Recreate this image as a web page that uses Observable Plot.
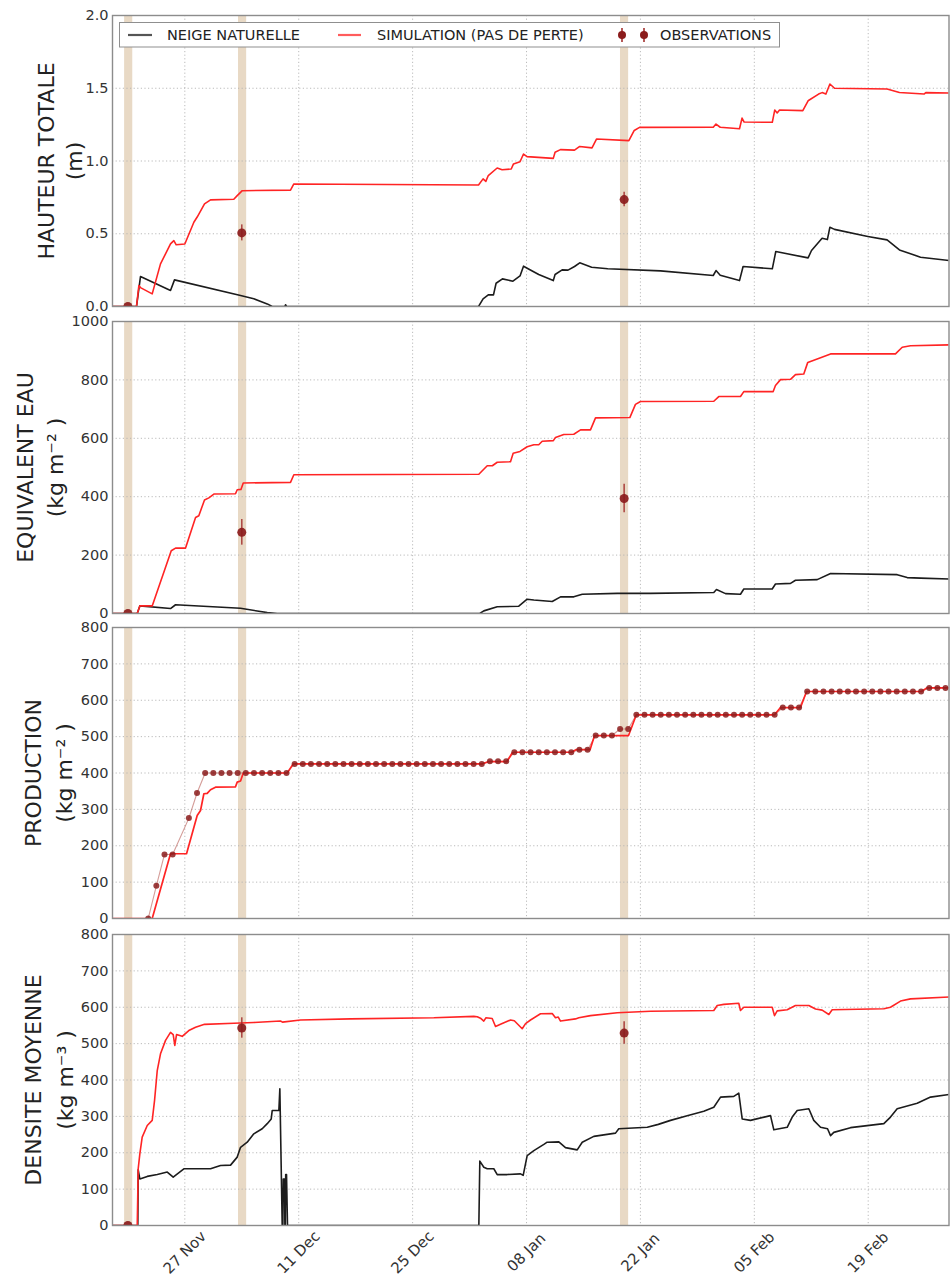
<!DOCTYPE html>
<html>
<head>
<meta charset="utf-8">
<script src="https://cdn.jsdelivr.net/npm/d3@7"></script>
<script src="https://cdn.jsdelivr.net/npm/@observablehq/plot@0.6"></script>
<style>
  html, body { margin: 0; padding: 0; background: #fff; }
  body { width: 951px; overflow: hidden; }
  #chart svg { display: block; }
</style>
</head>
<body>
<div id="chart"></div>
<script>
// Time is stored as "jour" = day count where jour 27 = 27 Nov 2015 00:00 UTC,
// jour 41 = 11 Dec, jour 69 = 08 Jan, jour 97 = 05 Feb ...
const origine = Date.UTC(2015, 9, 31);
const toDate = j => new Date(origine + j * 864e5);

const xDomain = [18.11, 120.93];
const xTickJours = [27, 41, 55, 69, 83, 97, 111];
const xTickLabels = ["27 Nov", "11 Dec", "25 Dec", "08 Jan", "22 Jan", "05 Feb", "19 Feb"];

// Observation days (beige bands) and observations
const bandStart = [19.6, 33.6, 80.55];
const bandEnd = [20.6, 34.6, 81.55];
const obsJours = [20, 34, 81];

const legendLabels = ["NEIGE NATURELLE", "SIMULATION (PAS DE PERTE)", "OBSERVATIONS"];

// ---------- HAUTEUR TOTALE (m)
const hauteurObs = [0, 0.506, 0.735];
const hauteurErr = [0, 0.055, 0.05];
const hauteurSim = [[18.11,0],[21.06,0],[21.35,0.144],[21.55,0.13],[22.99,0.087],[24.01,0.293],[25.24,0.43],[25.65,0.453],[25.94,0.424],[27.0,0.43],[28.11,0.579],[28.52,0.615],[29.42,0.705],[30.16,0.733],[33.02,0.737],[33.44,0.762],[34.06,0.796],[39.99,0.80],[40.40,0.842],[63.10,0.835],[63.66,0.877],[64.0,0.86],[64.30,0.90],[65.39,0.952],[66.0,0.94],[67.12,0.945],[67.40,0.98],[68.20,0.995],[68.63,1.048],[69.06,1.03],[72.29,1.018],[72.51,1.06],[73.17,1.078],[74.90,1.075],[75.54,1.10],[77.05,1.09],[77.60,1.151],[81.58,1.14],[82.24,1.21],[82.89,1.231],[91.95,1.232],[92.29,1.254],[92.81,1.232],[95.18,1.222],[95.49,1.295],[95.75,1.268],[99.21,1.266],[99.51,1.35],[99.81,1.33],[100.1,1.35],[102.96,1.346],[103.61,1.414],[104.90,1.46],[105.33,1.47],[105.8,1.46],[106.29,1.529],[106.86,1.50],[113.32,1.495],[114.84,1.471],[117.86,1.46],[118.08,1.47],[120.93,1.467]];
const hauteurNeige = [[18.11,0],[21.06,0],[21.55,0.206],[25.24,0.11],[25.73,0.183],[33.85,0.075],[35.48,0.053],[37.13,0.018],[37.74,0],[39.3,0],[39.38,0.012],[39.5,0],[63.10,0],[63.66,0.053],[64.30,0.08],[64.94,0.08],[65.26,0.16],[66.04,0.19],[67.33,0.174],[68.20,0.21],[68.63,0.277],[70.5,0.22],[72.29,0.178],[72.51,0.22],[73.38,0.252],[74.10,0.25],[74.90,0.275],[75.54,0.30],[77.0,0.27],[78.99,0.259],[85.47,0.245],[91.95,0.213],[92.29,0.247],[92.81,0.215],[95.18,0.178],[95.62,0.275],[99.21,0.259],[99.64,0.378],[103.61,0.334],[104.03,0.385],[105.33,0.469],[105.98,0.46],[106.29,0.545],[106.86,0.53],[110.95,0.481],[113.32,0.458],[114.84,0.389],[117.43,0.339],[120.93,0.316]];

// ---------- EQUIVALENT EAU (kg m-2)
const eauObs = [0, 278, 394];
const eauErr = [0, 44, 49];
const eauSim = [[18.11,0],[21.15,0],[21.47,26],[22.99,26],[25.33,215],[25.86,224],[27.09,224],[28.32,329],[28.72,335],[29.42,389],[29.95,396],[30.57,409],[33.23,410],[33.44,424],[33.9,425],[34.18,447],[39.99,449],[40.40,475],[63.14,477],[64.17,506],[64.8,506],[65.40,518],[67.03,520],[67.36,549],[68.2,555],[69.08,571],[69.90,578],[70.5,578],[70.93,590],[72.3,592],[72.56,603],[73.58,613],[74.81,614],[75.64,629],[76.86,629],[77.48,670],[81.70,671],[82.39,716],[83.01,726],[92.02,727],[92.63,743],[95.30,743],[95.71,760],[99.32,760],[99.60,781],[100.22,801],[101.45,802],[102.06,818],[103.08,820],[103.57,860],[105.14,876],[106.37,889],[114.35,889],[115.18,912],[116.20,917],[120.93,920]];
const eauNeige = [[18.11,0],[21.15,0],[21.47,26],[25.24,17],[25.86,30],[33.85,18],[37.13,3],[38.36,0],[63.26,0],[63.75,9],[65.40,23],[68.05,25],[69.08,49],[69.9,46],[72.16,41],[73.18,57],[74.81,57],[75.85,66],[80.15,69],[84.24,69],[92.02,72],[92.35,82],[93.46,68],[95.30,66],[95.71,84],[99.20,84],[99.60,101],[101.45,103],[102.06,114],[104.73,116],[106.37,137],[114.56,133],[115.79,123],[117.43,121],[120.93,118]];

// ---------- PRODUCTION (kg m-2)
const prodSim = [[18.11,0],[22.99,0],[25.24,178],[27.21,178],[28.52,283],[28.93,297],[29.34,343],[29.75,344],[30.16,354],[30.77,361],[33.23,362],[33.44,375],[33.85,378],[34.18,400],[39.59,400],[40.32,425],[63.55,425],[64.29,431],[66.58,431],[67.23,455],[67.53,457],[74.53,457],[75.07,464],[76.81,464],[77.36,503],[81.54,503],[82.50,560],[99.48,560],[100.22,580],[102.68,580],[103.42,624],[117.55,624],[118.20,634],[120.93,634]];
const prodObsJours = [22.5,23.5,24.5,25.5,27.5,28.5,
  29.5,30.5,31.5,32.5,33.5,34.5,35.5,36.5,37.5,38.5,39.5,
  40.5,41.5,42.5,43.5,44.5,45.5,46.5,47.5,48.5,49.5,50.5,51.5,52.5,53.5,54.5,55.5,56.5,57.5,58.5,59.5,60.5,61.5,62.5,63.5,
  64.5,65.5,66.5,
  67.5,68.5,69.5,70.5,71.5,72.5,73.5,74.5,
  75.5,76.5,
  77.5,78.5,79.5,
  80.5,81.5,
  82.5,83.5,84.5,85.5,86.5,87.5,88.5,89.5,90.5,91.5,92.5,93.5,94.5,95.5,96.5,97.5,98.5,99.5,
  100.5,101.5,102.5,
  103.5,104.5,105.5,106.5,107.5,108.5,109.5,110.5,111.5,112.5,113.5,114.5,115.5,116.5,117.5,
  118.5,119.5,120.5];
const prodObsValeurs = [0,90,176,176,276,345,
  400,400,400,400,400,400,400,400,400,400,400,
  425,425,425,425,425,425,425,425,425,425,425,425,425,425,425,425,425,425,425,425,425,425,425,425,
  432,432,432,
  457,457,457,457,457,457,457,457,
  464,464,
  503,503,503,
  521,521,
  560,560,560,560,560,560,560,560,560,560,560,560,560,560,560,560,560,560,
  580,580,580,
  624,624,624,624,624,624,624,624,624,624,624,624,624,624,624,
  634,634,634];

// ---------- DENSITE MOYENNE (kg m-3)
const densObs = [0, 543, 529];
const densErr = [0, 28, 31];
const densSim = [[18.11,0],[21.15,0],[21.27,156],[21.47,197],[21.76,243],[22.38,275],[22.99,289],[23.28,344],[23.61,426],[24.01,472],[24.63,509],[25.24,531],[25.57,525],[25.77,495],[25.98,525],[26.68,520],[27.49,536],[28.32,545],[29.42,553],[33.02,556],[35.48,558],[38.76,562],[39.0,559],[41.22,565],[47.37,568],[57.61,571],[62.52,575],[62.94,574],[63.34,570],[63.75,562],[64.0,571],[64.78,569],[65.19,547],[65.80,553],[67.03,565],[67.5,563],[68.47,541],[68.88,555],[69.49,565],[70.72,582],[72.16,583],[72.56,571],[72.9,573],[73.18,562],[75.02,568],[75.43,571],[76.86,577],[80.15,585],[84.24,589],[92.02,591],[92.44,605],[93.25,608],[95.09,611],[95.30,591],[95.71,600],[99.20,600],[99.48,577],[99.81,590],[101.04,593],[102.06,605],[103.70,605],[104.52,595],[105.34,592],[106.16,580],[106.57,593],[112.92,596],[113.74,600],[114.97,617],[116.20,623],[120.93,628]];
const densNeige = [[18.11,0],[21.22,0],[21.27,153],[21.47,128],[22.38,135],[23.61,140],[24.84,147],[25.57,133],[26.88,156],[30.16,156],[31.39,165],[32.62,166],[33.44,188],[33.85,215],[34.67,229],[35.48,252],[36.51,266],[37.13,280],[37.62,293],[37.74,316],[38.56,316],[38.68,376],[38.97,0],[39.05,0],[39.1,128],[39.25,128],[39.3,0],[39.35,0],[39.4,140],[39.5,140],[39.62,0],[63.14,0],[63.26,177],[63.75,160],[64.17,156],[64.98,156],[65.40,140],[66.63,140],[68.26,142],[68.59,138],[69.08,192],[69.90,206],[71.13,223],[71.54,229],[72.97,230],[73.79,214],[75.23,208],[75.85,229],[77.27,245],[79.94,254],[80.34,266],[83.84,270],[85.2,278],[86.70,289],[88.75,302],[90.79,314],[92.02,325],[92.85,353],[94.48,355],[95.09,364],[95.51,293],[96.53,289],[98.99,302],[99.40,263],[101.04,270],[101.66,298],[102.27,316],[103.70,321],[104.31,289],[105.14,270],[106.0,266],[106.37,247],[106.77,256],[108.82,269],[112.92,280],[113.74,298],[114.56,321],[117.02,336],[118.66,353],[120.93,360]];

// ---------- styles
const FONT = "DejaVu Sans";
const RED = "#ff2424";
const BLACK = "#1c1c1c";
const OBS = "#8b1c1c";
const GRID = {stroke: "#b3b3b3", strokeDasharray: "1.2,2.4", strokeWidth: 0.9};

const bands = bandStart.map((s, i) => ({s, e: bandEnd[i]}));
const xTickDates = xTickJours.map(toDate);

const panels = [
  {mt: 15, mb: 7, h: 313, yMax: 2, yTicks: [0, 0.5, 1.0, 1.5, 2.0], fmt: d3.format(".1f"),
   labels: ["HAUTEUR TOTALE", "(m)"], lx: [46, 74], neige: hauteurNeige, sim: hauteurSim, obs: hauteurObs, err: hauteurErr},
  {mt: 8, mb: 7, h: 307, yMax: 1000, yTicks: [0, 200, 400, 600, 800, 1000], fmt: d3.format("d"),
   labels: ["EQUIVALENT EAU", "(kg m\u207B\u00B2 )"], lx: [25, 55], neige: eauNeige, sim: eauSim, obs: eauObs, err: eauErr},
  {mt: 7, mb: 8, h: 306, yMax: 800, yTicks: [0, 100, 200, 300, 400, 500, 600, 700, 800], fmt: d3.format("d"),
   labels: ["PRODUCTION", "(kg m\u207B\u00B2 )"], lx: [33, 64], sim: prodSim, prod: true},
  {mt: 8, mb: 51, h: 350, yMax: 800, yTicks: [0, 100, 200, 300, 400, 500, 600, 700, 800], fmt: d3.format("d"),
   labels: ["DENSITE MOYENNE", "(kg m\u207B\u00B3 )"], lx: [33, 65], neige: densNeige, sim: densSim, obs: densObs, err: densErr, xLabels: true}
];

const ML = 112;
const container = document.getElementById("chart");

panels.forEach((p, pi) => {
  const marks = [
    Plot.rect(bands, {x1: d => toDate(d.s), x2: d => toDate(d.e), y1: () => 0, y2: () => p.yMax, fill: "#d2b48c", fillOpacity: 0.5}),
    Plot.ruleY(p.yTicks, GRID),
    Plot.ruleX(xTickDates, GRID)
  ];
  if (p.neige) marks.push(Plot.line(p.neige, {x: d => toDate(d[0]), y: d => d[1], stroke: BLACK, strokeWidth: 1.6, clip: true}));
  if (p.prod) {
    const pts = prodObsJours.map((j, i) => ({j, v: prodObsValeurs[i]}));
    marks.push(Plot.line(pts, {x: d => toDate(d.j), y: "v", stroke: "#b04a44", strokeOpacity: 0.55, strokeWidth: 1.1, clip: true}));
    marks.push(Plot.line(p.sim, {x: d => toDate(d[0]), y: d => d[1], stroke: RED, strokeWidth: 1.7, clip: true}));
    marks.push(Plot.dot(pts, {x: d => toDate(d.j), y: "v", r: 3, fill: OBS, fillOpacity: 0.85, stroke: "none", clip: true}));
  } else {
    marks.push(Plot.line(p.sim, {x: d => toDate(d[0]), y: d => d[1], stroke: RED, strokeWidth: 1.6, clip: true}));
    const obs = obsJours.map((j, i) => ({j, v: p.obs[i], e: p.err[i]}));
    marks.push(Plot.ruleX(obs.filter(d => d.e > 0), {x: d => toDate(d.j), y1: d => d.v - d.e, y2: d => d.v + d.e, stroke: "#a3302e", strokeOpacity: 0.85, strokeWidth: 1.6}));
    marks.push(Plot.dot(obs, {x: d => toDate(d.j), y: "v", r: 4.5, fill: OBS, fillOpacity: 0.92, stroke: "none", clip: true}));
  }
  marks.push(Plot.frame({stroke: "#8c8c8c", strokeWidth: 1.4}));
  marks.push(Plot.text([p.labels[0]], {text: d => d, frameAnchor: "left", rotate: -90, dx: p.lx[0] - ML, fontSize: 22, fill: "#222", textAnchor: "middle", lineAnchor: "middle"}));
  marks.push(Plot.text([p.labels[1]], {text: d => d, frameAnchor: "left", rotate: -90, dx: p.lx[1] - ML, fontSize: 22, fill: "#222", textAnchor: "middle", lineAnchor: "middle"}));
  if (p.xLabels) {
    marks.push(Plot.text(xTickJours, {x: d => toDate(d), text: (d, i) => xTickLabels[i], frameAnchor: "bottom", rotate: -45, dy: 27, fontSize: 15, fill: "#333", textAnchor: "middle", lineAnchor: "middle"}));
  }

  const svg = Plot.plot({
    width: 951,
    height: p.h,
    marginLeft: ML,
    marginRight: 2.5,
    marginTop: p.mt,
    marginBottom: p.mb,
    style: {fontFamily: FONT, fontSize: "14.5px", color: "#333", background: "white", overflow: "visible"},
    x: {type: "time", domain: xDomain.map(toDate), axis: null},
    y: {domain: [0, p.yMax], ticks: p.yTicks, tickFormat: p.fmt, tickSize: 0, tickPadding: 4, label: null},
    marks
  });
  container.appendChild(svg);

  if (pi === 0) {
    // legend box in the top panel
    const g = d3.select(svg).append("g")
      .attr("font-family", FONT).attr("font-size", 14.5).attr("fill", "#222").attr("text-anchor", "start");
    g.append("rect").attr("x", 119.5).attr("y", 22.5).attr("width", 660).attr("height", 24.5)
      .attr("fill", "white").attr("stroke", "#8f8f8f").attr("stroke-width", 1);
    const cy = 35;
    g.append("line").attr("x1", 128).attr("x2", 152).attr("y1", cy).attr("y2", cy).attr("stroke", "#555").attr("stroke-width", 2.2);
    g.append("text").attr("x", 167).attr("y", cy).attr("dy", "0.36em").text(legendLabels[0]);
    g.append("line").attr("x1", 338).attr("x2", 361).attr("y1", cy).attr("y2", cy).attr("stroke", "#ff5c5c").attr("stroke-width", 2.2);
    g.append("text").attr("x", 377).attr("y", cy).attr("dy", "0.36em").text(legendLabels[1]);
    [622, 644].forEach(mx => {
      g.append("line").attr("x1", mx).attr("x2", mx).attr("y1", cy - 7).attr("y2", cy + 7).attr("stroke", "#a3302e").attr("stroke-width", 1.6);
      g.append("circle").attr("cx", mx).attr("cy", cy).attr("r", 4).attr("fill", OBS);
    });
    g.append("text").attr("x", 660).attr("y", cy).attr("dy", "0.36em").text(legendLabels[2]);
  }
});
</script>
</body>
</html>
